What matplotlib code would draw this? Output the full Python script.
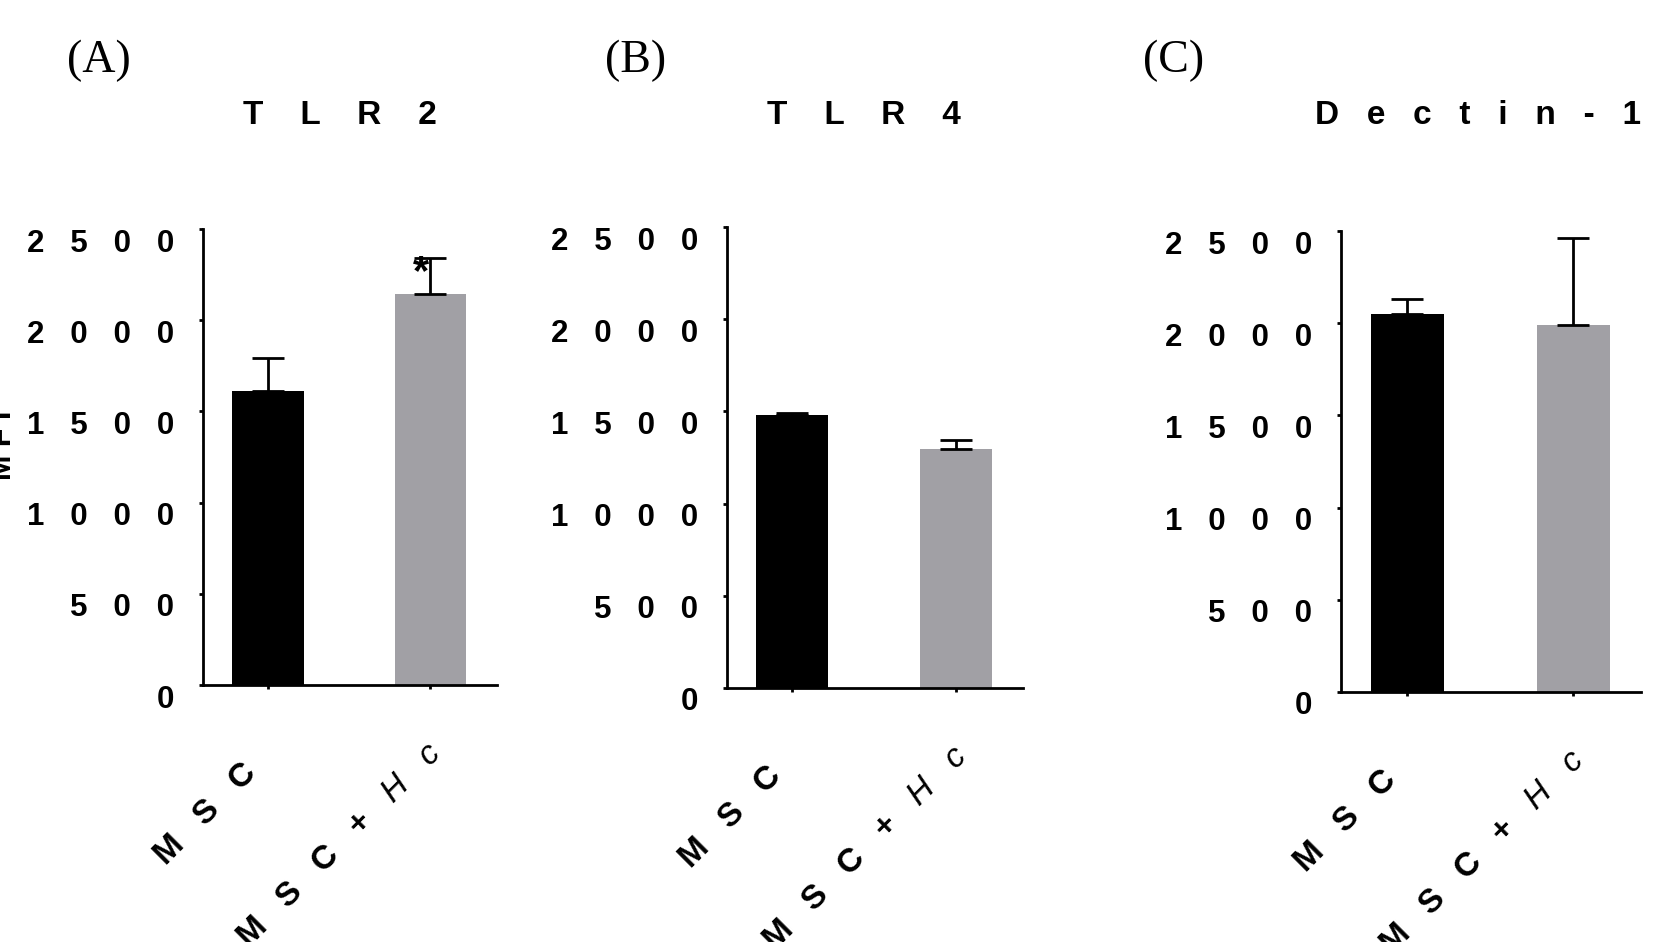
import numpy as np
import matplotlib.pyplot as plt
import matplotlib.transforms as mtransforms

plt.rcParams['font.family'] = 'Liberation Sans'
plt.rcParams['font.weight'] = 'bold'
plt.rcParams['mathtext.fontset'] = 'custom'
plt.rcParams['mathtext.it'] = 'Liberation Sans:italic:normal'
plt.rcParams['mathtext.rm'] = 'Liberation Sans:normal'

# data
groups = ["M   S   C", r"M   S   C   +   $\mathit{H}$   $\mathit{c}$"]
panels = ["(A)", "(B)", "(C)"]
titles = ["TLR 2", "TLR 4", "Dectin-1"]
tlr2 = [1612, 2144]
tlr2_err = [181, 197]
tlr4 = [1480, 1296]
tlr4_err = [11, 49]
dectin = [2050, 1990]
dectin_err = [81, 472]
yticks = [0, 500, 1000, 1500, 2000, 2500]
colors = ['black', '#a1a0a5']

W, H = 1674, 942
fig = plt.figure(figsize=(W/100, H/100), dpi=100)

def spaced(s, n):
    return (" " * n).join(c for c in s if c != " ")

# axes rectangles in pixels (left, right, top, bottom)
rects = [(203, 497, 229, 685), (727, 1023, 227, 688), (1341, 1641, 231, 692)]
title_x = [340, 864, 1478]
title_gap = [4, 4, 3]
panel_x = [99, 636, 1174]
values = [tlr2, tlr4, dectin]
errors = [tlr2_err, tlr4_err, dectin_err]
x = np.arange(len(groups))

for k in range(3):
    l, r, t, b = rects[k]
    ax = fig.add_axes([l/W, 1-b/H, (r-l)/W, (b-t)/H])
    ax.bar(x, values[k], width=0.44, color=colors)
    ax.errorbar(x, values[k], yerr=[np.zeros(2), errors[k]], fmt='none',
                ecolor='black', elinewidth=2, capsize=11.5, capthick=2, clip_on=False)
    ax.set_xlim(-0.40, 1.41)
    ax.set_ylim(0, 2500)
    for s in ['top', 'right']:
        ax.spines[s].set_visible(False)
    for s in ['left', 'bottom']:
        ax.spines[s].set_linewidth(2)
    ax.tick_params(direction='out', length=3, width=2)
    ax.tick_params(axis='y', pad=18, labelsize=22.5)
    ax.tick_params(axis='x', pad=0, labelsize=24)
    ax.set_yticks(yticks)
    ax.set_yticklabels([spaced(str(v), 3) for v in yticks])
    ax.set_xticks(x)
    ax.set_xticklabels(groups)
    for lbl in ax.get_yticklabels():
        lbl.set_transform(lbl.get_transform() +
                          mtransforms.ScaledTranslation(0, -0.11, fig.dpi_scale_trans))
    offs = [(-0.16, -0.79), (0.07, -0.59)]
    for lbl, (dx, dy) in zip(ax.get_xticklabels(), offs):
        lbl.set_rotation(45)
        lbl.set_rotation_mode('anchor')
        lbl.set_ha('right')
        lbl.set_va('center')
        lbl.set_transform(lbl.get_transform() +
                          mtransforms.ScaledTranslation(dx, dy, fig.dpi_scale_trans))
    if k == 0:
        ax.annotate('*', xy=(1, tlr2[1] + tlr2_err[1]), xytext=(-6.5, -19),
                    textcoords='offset points', ha='center', va='baseline',
                    fontsize=30, fontweight='bold', annotation_clip=False)

    fig.text(title_x[k]/W, 1-115/H, spaced(titles[k], title_gap[k]), ha='center',
             va='center', fontsize=24, fontweight='bold')
    fig.text(panel_x[k]/W, 1-61/H, panels[k], ha='center', va='center',
             fontsize=33, family='Liberation Serif', fontweight='normal')

fig.text(18/W, 1-445/H, 'M F I', rotation=90, ha='right', va='center', fontsize=22)

plt.savefig('out.png', dpi=100)
